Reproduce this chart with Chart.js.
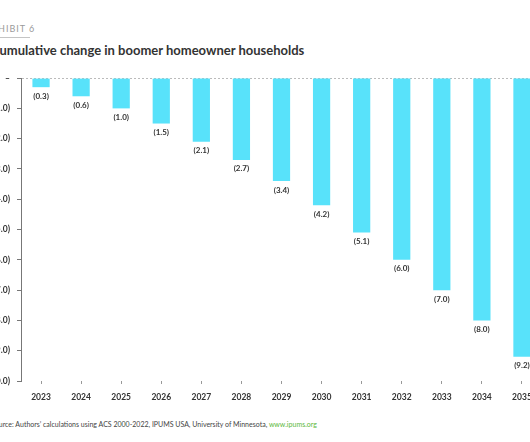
<!DOCTYPE html>
<html>
<head>
<meta charset="utf-8">
<script src="https://cdn.jsdelivr.net/npm/chart.js@4/dist/chart.umd.min.js"></script>
<style>
  html, body { margin: 0; padding: 0; background: #fff; }
  body { width: 530px; height: 442px; overflow: hidden; position: relative; font-family: Lato, "Open Sans", sans-serif; }
  #exhibit { position: absolute; left: -15px; top: 23px; font-size: 9px; letter-spacing: 1px; color: #9a9a9a; }
  #rule { position: absolute; left: 0; top: 37px; width: 30px; height: 1px; background: #c4c4c4; }
  #title { position: absolute; left: -9px; top: 42px; font-size: 13px; font-weight: bold; color: #333; white-space: nowrap; }
  #source { position: absolute; left: -9px; top: 420px; font-size: 7px; color: #444; white-space: nowrap; }
  #source span { color: #5cb83a; }
  #wrap { position: absolute; left: -19px; top: 66px; width: 564px; height: 339px; }
</style>
</head>
<body>
<div id="exhibit">EXHIBIT 6</div>
<div id="rule"></div>
<div id="title">Cumulative change in boomer homeowner households</div>
<div id="wrap"><canvas id="chart"></canvas></div>
<div id="source">Source: Authors’ calculations using ACS 2000-2022, IPUMS USA, University of Minnesota, <span>www.ipums.org</span></div>

<script>
const years = ["2023", "2024", "2025", "2026", "2027", "2028", "2029", "2030", "2031", "2032", "2033", "2034", "2035"];
const change = [-0.3, -0.6, -1.0, -1.5, -2.1, -2.7, -3.4, -4.2, -5.1, -6.0, -7.0, -8.0, -9.2];
const yTicks = [0, -1, -2, -3, -4, -5, -6, -7, -8, -9, -10];

function fmt(v) {
    if (v === 0) return "–";
    return "(" + Math.abs(v).toFixed(1) + ")";
}

// labels under each bar
const barLabels = {
    id: "barLabels",
    afterDatasetsDraw(chart) {
        const ctx = chart.ctx;
        const meta = chart.getDatasetMeta(0);
        ctx.save();
        ctx.font = "bold 8px Lato, sans-serif";
        ctx.fillStyle = "#333";
        ctx.textAlign = "center";
        ctx.textBaseline = "middle";
        meta.data.forEach((bar, i) => {
            ctx.fillText(fmt(change[i]), bar.x, bar.y + 9);
        });
        ctx.restore();
    }
};

new Chart(document.getElementById("chart"), {
    type: "bar",
    data: {
        labels: years,
        datasets: [{
            data: change,
            backgroundColor: "#58e2fa",
            categoryPercentage: 1,
            barPercentage: 0.43
        }]
    },
    options: {
        responsive: true,
        maintainAspectRatio: false,
        animation: false,
        layout: { padding: { top: 10, right: 3, left: 0, bottom: 0 } },
        plugins: { legend: { display: false }, tooltip: { enabled: false } },
        scales: {
            x: {
                grid: { offset: false, drawOnChartArea: false, tickLength: 3, tickColor: "#999" },
                border: { display: false },
                ticks: { color: "#333", font: { family: "Lato", size: 8.5, weight: "bold" }, padding: 8, maxRotation: 0 },
                afterFit: s => { s.height = 24; }
            },
            y: {
                min: -10,
                max: 0,
                afterBuildTicks: s => { s.ticks = yTicks.map(v => ({ value: v })); },
                grid: {
                    color: c => (c.tick && c.tick.value === 0) ? "#bbb" : "transparent",
                    tickColor: "#777",
                    tickLength: 4
                },
                border: { color: "#777", dash: [2, 2] },
                ticks: { color: "#333", font: { family: "Lato", size: 8.5, weight: "bold" }, padding: 7, callback: v => fmt(v) },
                afterFit: s => { s.width = 40; }
            }
        }
    },
    plugins: [barLabels]
});
</script>
</body>
</html>
